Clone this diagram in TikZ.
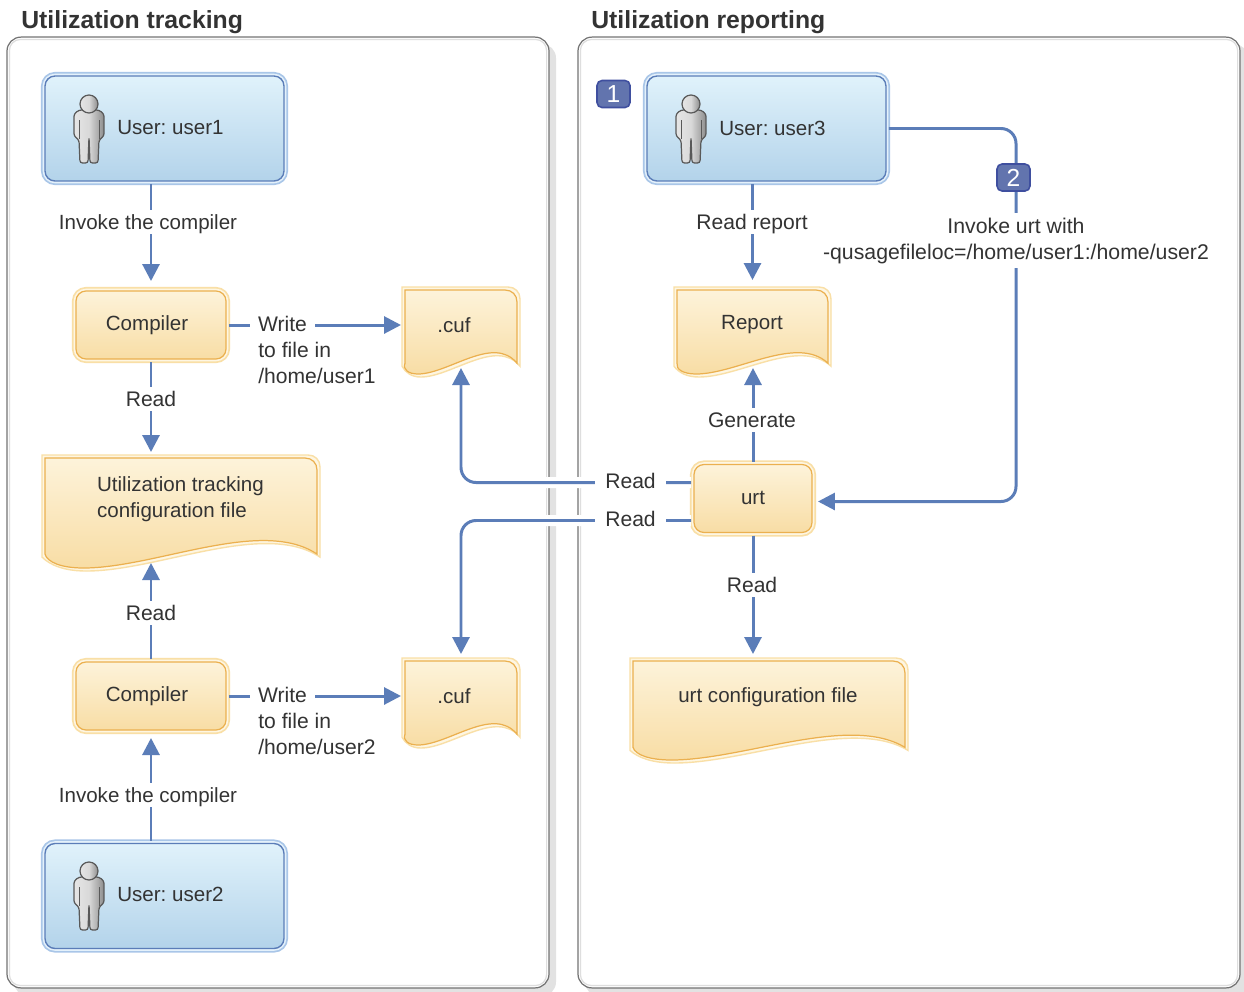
\documentclass[tikz,border=0pt]{standalone}
\usepackage{fontspec}
\setmainfont{Liberation Sans}
\usetikzlibrary{arrows.meta}

\definecolor{flowblue}{HTML}{5B7DB8}
\definecolor{inktext}{HTML}{333333}
\definecolor{shadowgrey}{HTML}{E2E2E2}
\definecolor{usertop}{HTML}{E0F2FB}
\definecolor{userbottom}{HTML}{B3D3EA}
\definecolor{userhalo}{HTML}{A9C6E8}
\definecolor{userhalomid}{HTML}{E4F1FB}
\definecolor{tooltop}{HTML}{FDF3DA}
\definecolor{toolbottom}{HTML}{F8DDA5}
\definecolor{toolline}{HTML}{EBB04F}
\definecolor{toolhalo}{HTML}{F9DFA6}
\definecolor{toolhalomid}{HTML}{FEF6E2}
\definecolor{badgefill}{HTML}{6274AE}
\definecolor{badgeline}{HTML}{3F4F9F}

\newcommand{\labelfont}{\fontsize{11.7}{14.8}\selectfont\frenchspacing}
\newcommand{\widefont}{\fontsize{12}{14.8}\selectfont\frenchspacing}

\newcommand{\docpath}[2]{(0,0) -- ({#1-12},0) .. controls ({#1-5},0) and (#1,5) .. (#1,12)
  -- (#1,{0.88*#2}) .. controls ({0.8*#1},{0.56*#2}) and ({0.42*#1},#2) .. ({0.16*#1},#2)
  .. controls ({0.08*#1},#2) and ({0.03*#1},{0.95*#2}) .. (0,{0.88*#2}) -- cycle}

% name, left, top, width, height, text position, text
\newcommand{\docnode}[7]{
  \path[docglow,shift={(#2,#3)}] \docpath{#4}{#5};
  \path[docbody,shift={(#2+3,#3+3)}] \docpath{#4-6}{#5-6};
  \node[docanchor,minimum width={#4*0.02cm},minimum height={#5*0.02cm}] (#1) at (#2+#4/2,#3+#5/2) {};
  \node[doctext] (#1text) at (#6) {#7};
}

\tikzset{
  person/.pic={
    \path[personbody,rounded corners=.05cm] (-10,15) -- (10,15) -- (15,19) -- (15,41) -- (10,45)
      -- (9,68) -- (1,68) -- (0,42) -- (-1,68) -- (-9,68) -- (-10,45) -- (-15,41) -- (-15,19) -- cycle;
    \draw[personline] (10,25) -- (10,44) (-10,25) -- (-10,44);
    \path[personbody] (0,9) circle[radius=9];
  },
  personbody/.style={draw=black!65,line width=.7pt,left color=black!10,right color=black!45,middle color=black!15},
  personline/.style={draw=black!65,line width=.5pt},
  panel/.style={draw=black!55,fill=white,line width=.7pt,rounded corners=.28cm,minimum width={#1*0.02cm},minimum height=19.02cm,inner sep=0pt},
  panelinner/.style={draw=black!13,line width=.7pt,rounded corners=.22cm},
  paneltitle/.style={anchor=west,inner sep=0pt,font=\fontsize{14.1}{17}\selectfont\bfseries,text=inktext},
  userbox/.style={rounded corners=.2cm,minimum width=4.78cm,minimum height=2.1cm,outer sep=.06cm,inner sep=0pt,
    draw=flowblue,line width=.8pt,top color=usertop,bottom color=userbottom,
    preaction={draw=userhalo,line width=4.6pt},preaction={draw=userhalomid,line width=2.6pt}},
  toolbox/.style={rounded corners=.2cm,minimum height=1.36cm,outer sep=.06cm,inner sep=0pt,
    draw=toolline,line width=.7pt,top color=tooltop,bottom color=toolbottom,
    preaction={draw=toolhalo,line width=4.6pt},preaction={draw=toolhalomid,line width=2.6pt},
    font=\labelfont,text=inktext},
  docglow/.style={draw=toolhalo,fill=toolhalomid,line width=.8pt},
  docbody/.style={draw=toolline,line width=.7pt,top color=tooltop,bottom color=toolbottom},
  docanchor/.style={inner sep=0pt,outer sep=0pt},
  doctext/.style={inner sep=0pt,align=left,font=\labelfont,text=inktext},
  usertext/.style={anchor=west,inner sep=0pt,font=\labelfont,text=inktext},
  plaintext/.style={anchor=west,inner sep=0pt,align=left,font=\widefont,text=inktext},
  flowlabel/.style={fill=white,inner xsep=.2cm,inner ysep=.035cm,text height=.35cm,text depth=.06cm,font=\widefont,text=inktext},
  flow/.style={draw=flowblue,line width=1.7pt,rounded corners=.3cm,-{Triangle[width=.34cm,length=.34cm]}},
  flowgap/.style={flow,preaction={draw=white,line width=.22cm,-}},
  badge/.style={rounded corners=.1cm,minimum width=.66cm,minimum height=.54cm,inner sep=0pt,
    draw=badgeline,line width=.9pt,fill=badgefill,
    text=white,font=\fontsize{14}{16}\selectfont}
}

\begin{document}
\begin{tikzpicture}[x=.02cm,y=-.02cm]
  \useasboundingbox (0,0) rectangle (1244,991);

  \fill[shadowgrey,rounded corners=.28cm] (14,44) rectangle (556,996);
  \fill[shadowgrey,rounded corners=.28cm] (585,44) rectangle (1248,996);

  \node[panel=542] (trackpanel) at (278,512.5) {};
  \node[panel=662] (reportpanel) at (909,512.5) {};
  \draw[panelinner] ([shift={(3,3)}]trackpanel.north west) rectangle ([shift={(-3,-3)}]trackpanel.south east);
  \draw[panelinner] ([shift={(3,3)}]reportpanel.north west) rectangle ([shift={(-3,-3)}]reportpanel.south east);

  \node[paneltitle] (tracktitle) at (21,22.5) {Utilization tracking};
  \node[paneltitle] (reporttitle) at (591,22.5) {Utilization reporting};

  \node[userbox] (user1) at (164.5,128.5) {};
  \node[userbox] (user2) at (164.5,896) {};
  \node[userbox] (user3) at (766.5,128.5) {};
  \pic at (89,95) {person};
  \pic at (89,862) {person};
  \pic at (691,95) {person};
  \node[usertext] (user1text) at (117,128) {User: user1};
  \node[usertext] (user2text) at (117,894) {User: user2};
  \node[usertext] (user3text) at (719,128) {User: user3};

  \node[toolbox,minimum width=3cm] (comp1) at (151,325) {\hspace*{-.16cm}Compiler};
  \node[toolbox,minimum width=3cm] (comp2) at (151,696) {\hspace*{-.16cm}Compiler};
  \node[toolbox,minimum width=2.36cm] (urt) at (753,498.5) {\raisebox{.02cm}{urt}};

  \docnode{cuf1}{402}{287}{118}{90}{454,325}{.cuf}
  \docnode{cuf2}{402}{658}{118}{90}{454,696}{.cuf}
  \docnode{trackfile}{42}{455}{278}{116}{180.5,499}{Utilization tracking\\configuration file}
  \docnode{report}{674}{287}{157}{90}{752,325}{Report}
  \docnode{urtfile}{630}{658}{278}{105}{768,697}{urt configuration file}

  \coordinate (turn) at (1016,128.5);
  \coordinate (urtin) at ([yshift=-.06cm]urt.east);

  \draw[flow,shorten >=.14cm] (comp1 |- user1.south) -- (comp1.north);
  \draw[flow,shorten >=.02cm] (comp1.east) -- (comp1.east -| cuf1.west);
  \draw[flow,shorten >=.06cm] (comp1.south) -- (comp1.south |- trackfile.north);
  \draw[flow,shorten >=-.16cm] (comp2.north) -- (comp2.north |- trackfile.south);
  \draw[flow,shorten >=.02cm] (comp2.east) -- (comp2.east -| cuf2.west);
  \draw[flow,shorten >=.1cm] (comp2 |- user2.north) -- (comp2.south);
  \draw[flow,shorten >=.14cm] (report |- user3.south) -- (report.north);
  \draw[flow,shorten >=-.18cm] (urt.north) -- (urt.north |- report.south);
  \draw[flow,shorten >=.08cm] (urt.south) -- (urt.south |- urtfile.north);
  \draw[flow,shorten >=.06cm] (user3.east) -- (turn) -- (turn |- urtin) -- (urtin);
  \draw[flowgap,shorten >=-.18cm] ([yshift=.32cm]urt.west) -| (cuf1.south);
  \draw[flowgap,shorten >=.08cm] ([yshift=-.44cm]urt.west) -| (cuf2.north);

  \node[flowlabel,font=\labelfont] (invoke1) at (148,222) {Invoke the compiler};
  \node[flowlabel,font=\labelfont] (invoke2) at (148,795) {Invoke the compiler};
  \node[flowlabel] (readcfg1) at (151,399) {Read};
  \node[flowlabel] (readcfg2) at (151,613) {Read};
  \node[flowlabel,inner xsep=.17cm] (write1) at (282.5,324) {Write};
  \node[flowlabel,inner xsep=.17cm] (write2) at (282.5,695) {Write};
  \node[plaintext] (write1more) at (258,363) {to file in\\/home/user1};
  \node[plaintext] (write2more) at (258,734) {to file in\\/home/user2};
  \node[flowlabel] (readreport) at (752,222) {Read report};
  \node[flowlabel] (generate) at (752,420) {Generate};
  \node[flowlabel] (readcuf1) at (630.5,481) {Read};
  \node[flowlabel] (readcuf2) at (630.5,519) {Read};
  \node[flowlabel] (readurt) at (752,585) {Read};
  \node[flowlabel,align=center,text height=,text depth=,inner ysep=.1cm,font=\fontsize{12.1}{14.8}\selectfont] (invokeurt) at (1016,240.5) {Invoke urt with\\-qusagefileloc=/home/user1:/home/user2};

  \node[badge] (badge1) at (613.5,94) {1};
  \node[badge] (badge2) at (1013.5,177.5) {2};
\end{tikzpicture}
\end{document}
